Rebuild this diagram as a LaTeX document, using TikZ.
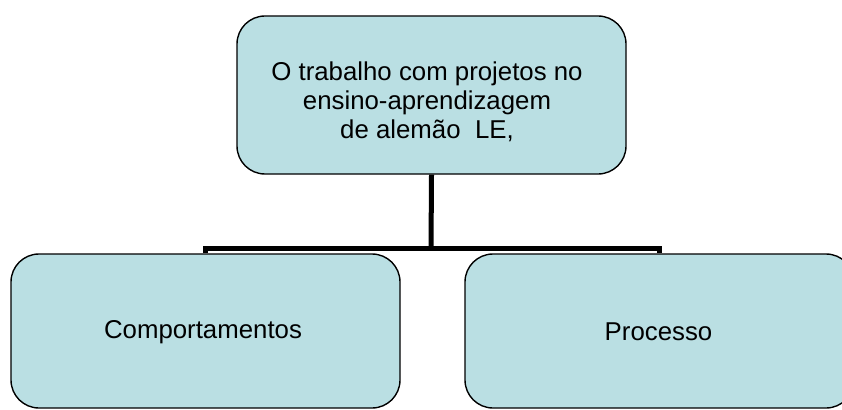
\documentclass[tikz,border=0pt]{standalone}
\usepackage{fontspec}
\setmainfont{Liberation Sans}
\definecolor{boxfill}{RGB}{186,223,227}
\begin{document}
\begin{tikzpicture}[x=1pt,y=-1pt,
  box/.style={draw=black, line width=1.4pt, fill=boxfill, rounded corners=28pt,
    minimum width=389pt, inner sep=0pt},
  conn/.style={draw=black, line width=5pt, line join=miter},
  txt/.style={font=\fontsize{25.8}{28.7}\selectfont, align=center, inner sep=0pt}]
\useasboundingbox (0,0) rectangle (842,409);
\clip (0,0) rectangle (842,409);
\coordinate (bus) at (431,248.5);
\node[box, minimum height=158pt] (top) at (431.5,95) {};
\node[box, minimum height=154pt] (left) at (205.5,331) {};
\node[box, minimum height=154pt] (right) at (659.5,331) {};
\draw[conn] (top.south) -- (bus);
\draw[conn] (left.north) -- (left.north |- bus) -- (right.north |- bus) -- (right.north);
\node[txt] (toptext) at (427,102) {O trabalho com projetos no\\ensino-aprendizagem\\de alemão\ \ LE,};
\node[txt] (lefttext) at (203,332) {Comportamentos};
\node[txt] (righttext) at (658.5,332) {Processo};
\end{tikzpicture}
\end{document}
